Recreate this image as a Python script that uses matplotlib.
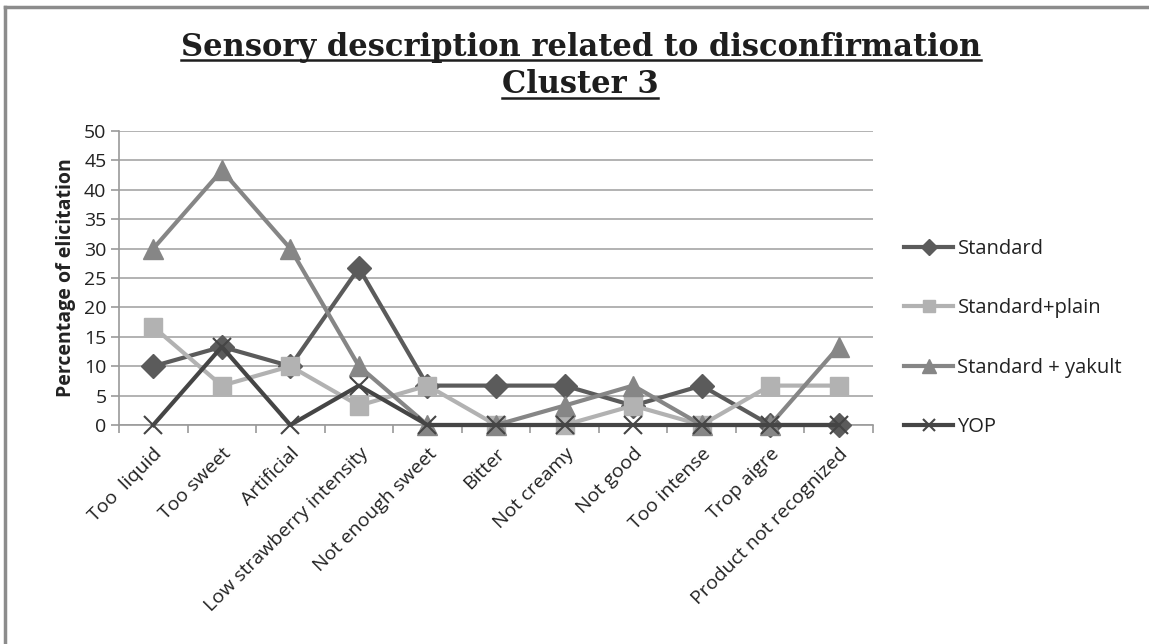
import numpy as np
import matplotlib
matplotlib.use("Agg")
import matplotlib.pyplot as plt
from matplotlib.lines import Line2D

categories = ["Too  liquid", "Too sweet", "Artificial", "Low strawberry intensity",
              "Not enough sweet", "Bitter", "Not creamy", "Not good", "Too intense",
              "Trop aigre", "Product not recognized"]
standard = [10, 13.3, 10, 26.7, 6.7, 6.7, 6.7, 3.3, 6.7, 0, 0]
standard_plain = [16.7, 6.7, 10, 3.3, 6.7, 0, 0, 3.3, 0, 6.7, 6.7]
standard_yakult = [30, 43.3, 30, 10, 0, 0, 3.3, 6.7, 0, 0, 13.3]
yop = [0, 13.3, 0, 6.7, 0, 0, 0, 0, 0, 0, 0]

series = [
    ("Standard", standard, "#5b5b5b", "D", 12),
    ("Standard+plain", standard_plain, "#b2b2b2", "s", 13),
    ("Standard + yakult", standard_yakult, "#868686", "^", 15),
    ("YOP", yop, "#454545", "x", 13),
]

W, H = 1149, 644
fig = plt.figure(figsize=(W / 100, H / 100), dpi=100)
fig.patch.set_facecolor("white")

# outer chart frame (top and left visible)
fig.add_artist(Line2D([5 / W, 5 / W], [0, 1 - 7 / H], color="#8c8c8c", lw=2.5))
fig.add_artist(Line2D([5 / W, 1], [1 - 7 / H, 1 - 7 / H], color="#8c8c8c", lw=2.5))

ax = fig.add_axes([119 / W, 1 - 425 / H, (873 - 119) / W, (425 - 131) / H])
x = np.arange(len(categories))

for name, vals, col, mk, ms in series:
    if mk == "x":
        ax.plot(x, vals, color=col, lw=3, marker=mk, ms=ms, mew=1.5, label=name,
                zorder=3, clip_on=False)
    else:
        ax.plot(x, vals, color=col, lw=3, marker=mk, ms=ms, mec=col, label=name,
                zorder=3, clip_on=False)

ax.set_xlim(-0.5, len(categories) - 0.5)
ax.set_ylim(0, 50)
ax.set_yticks(np.arange(0, 51, 5))
ax.yaxis.grid(True, color="#a6a6a6", lw=1.2)
ax.set_axisbelow(True)
for s in ["top", "right"]:
    ax.spines[s].set_visible(False)
for s in ["left", "bottom"]:
    ax.spines[s].set_color("#9a9a9a")
    ax.spines[s].set_linewidth(1.2)

# ticks between categories, labels on categories
ax.set_xticks(np.arange(-0.5, len(categories), 1))
ax.set_xticklabels([])
ax.set_xticks(x, minor=True)
ax.set_xticklabels(categories, minor=True, rotation=45, ha="right",
                   rotation_mode="anchor", fontsize=14, family="Open Sans",
                   color="#222222")
ax.tick_params(axis="x", which="major", length=6, color="#9a9a9a", width=1.2)
ax.tick_params(axis="x", which="minor", length=0, pad=14)
ax.tick_params(axis="y", length=6, color="#9a9a9a", width=1.2, labelsize=14,
               labelcolor="#222222", pad=3)
for t in ax.get_yticklabels():
    t.set_family("Open Sans")

ax.set_ylabel("Percentage of elicitation", fontsize=14, fontweight="bold",
              family="Open Sans", color="#222222", labelpad=6)

leg = fig.legend(handles=ax.get_lines(), loc="center left",
                 bbox_to_anchor=(886 / W, 1 - 338 / H), frameon=False,
                 labelspacing=1.95, handlelength=2.45, handletextpad=0.2,
                 markerscale=0.65, prop={"family": "Open Sans", "size": 14.5})
for txt in leg.get_texts():
    txt.set_color("#222222")

t1 = fig.text(581 / W, 1 - 56 / H, "Sensory description related to disconfirmation",
              ha="center", va="baseline", fontsize=22, fontweight="bold",
              family="DejaVu Serif", color="#1e1e1e")
t2 = fig.text(580 / W, 1 - 93 / H, "Cluster 3", ha="center", va="baseline",
              fontsize=22, fontweight="bold", family="DejaVu Serif", color="#1e1e1e")

# underline the title lines
fig.canvas.draw()
r = fig.canvas.get_renderer()
for t, yl in ((t1, 60), (t2, 98)):
    bb = t.get_window_extent(r)
    fig.add_artist(Line2D([bb.x0 / W, bb.x1 / W], [1 - yl / H, 1 - yl / H],
                          color="#1e1e1e", lw=1.8))

fig.savefig("out.png", dpi=100)
